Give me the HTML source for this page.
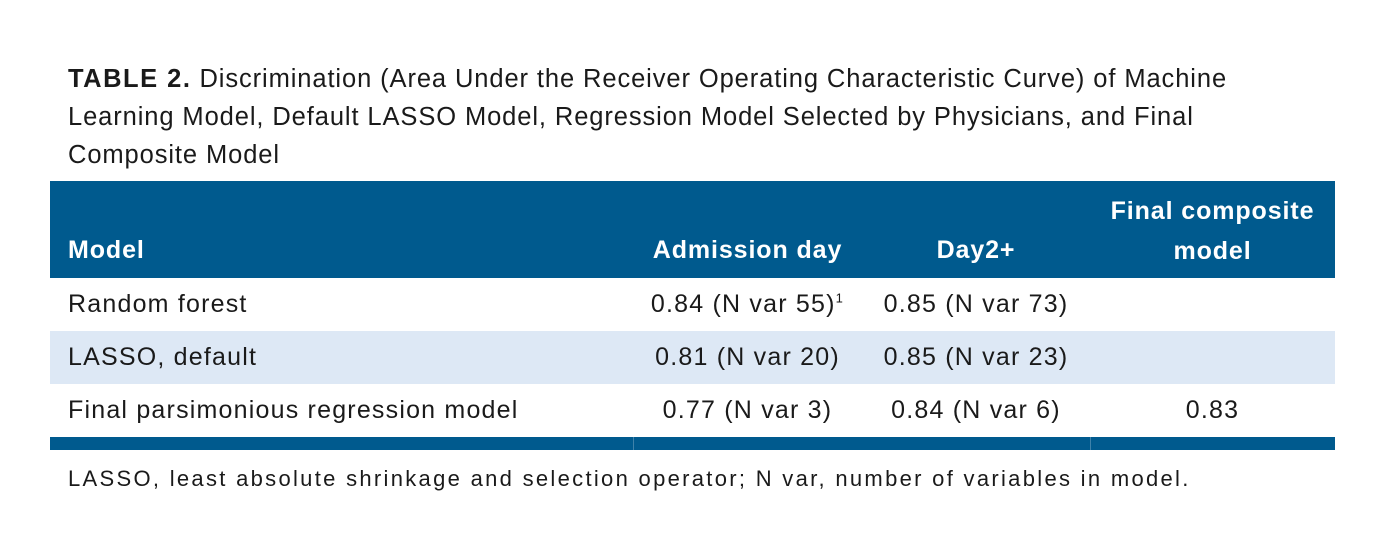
<!DOCTYPE html>
<html><head><meta charset="utf-8"><style>
body{margin:0;width:1386px;height:557px;background:#fff;font-family:"Liberation Sans",sans-serif;color:#1a1a1a;position:relative;overflow:hidden}
.t{position:absolute;left:68px;top:60px;width:1300px;font-size:25.5px;line-height:38px;letter-spacing:0.9px;white-space:nowrap}
.t b{font-weight:bold;letter-spacing:1.5px}
.tbl{position:absolute;left:50px;top:181px;width:1285px}
.hd{position:absolute;left:0;top:0;width:1285px;height:97px;background:#005a8e}
.row{position:absolute;left:0;width:1285px;height:53px}
.c{position:absolute;font-size:25px;white-space:nowrap;letter-spacing:1.2px}
.h{color:#fff;font-weight:bold;font-size:25px;letter-spacing:0.9px}
.bot{position:absolute;left:0;top:256px;width:1285px;height:13px;background:#005a8e}
.vl{position:absolute;top:256px;width:1px;height:13px;background:#3f82aa}
.fn{position:absolute;left:68px;top:466px;font-size:22px;letter-spacing:2.3px;white-space:nowrap}
</style></head><body>
<div class="t"><b>TABLE 2.</b> Discrimination (Area Under the Receiver Operating Characteristic Curve) of Machine<br>Learning Model, Default LASSO Model, Regression Model Selected by Physicians, and Final<br>Composite Model</div>
<div class="tbl">
<div class="hd">
<div class="c h" style="left:18px;top:55px">Model</div>
<div class="c h" style="left:583px;width:229px;text-align:center;top:55px">Admission day</div>
<div class="c h" style="left:812px;width:228px;text-align:center;top:55px">Day2+</div>
<div class="c h" style="left:1040px;width:245px;text-align:center;top:10px;line-height:40px;white-space:normal">Final composite<br>model</div>
</div>
<div class="row" style="top:97px;background:#fff">
<div class="c" style="left:18px;top:12px">Random forest</div>
<div class="c" style="left:583px;width:229px;text-align:center;top:12px">0.84 (N var 55)<sup style="font-size:13px">1</sup></div>
<div class="c" style="left:812px;width:228px;text-align:center;top:12px">0.85 (N var 73)</div>
</div>
<div class="row" style="top:150px;background:#dde8f5">
<div class="c" style="left:18px;top:12px">LASSO, default</div>
<div class="c" style="left:583px;width:229px;text-align:center;top:12px">0.81 (N var 20)</div>
<div class="c" style="left:812px;width:228px;text-align:center;top:12px">0.85 (N var 23)</div>
</div>
<div class="row" style="top:203px;background:#fff">
<div class="c" style="left:18px;top:12px">Final parsimonious regression model</div>
<div class="c" style="left:583px;width:229px;text-align:center;top:12px">0.77 (N var 3)</div>
<div class="c" style="left:812px;width:228px;text-align:center;top:12px">0.84 (N var 6)</div>
<div class="c" style="left:1040px;width:245px;text-align:center;top:12px">0.83</div>
</div>
<div class="bot"></div>
<div class="vl" style="left:583px"></div><div class="vl" style="left:1040px"></div>
</div>
<div class="fn">LASSO, least absolute shrinkage and selection operator; N var, number of variables in model.</div>
</body></html>
